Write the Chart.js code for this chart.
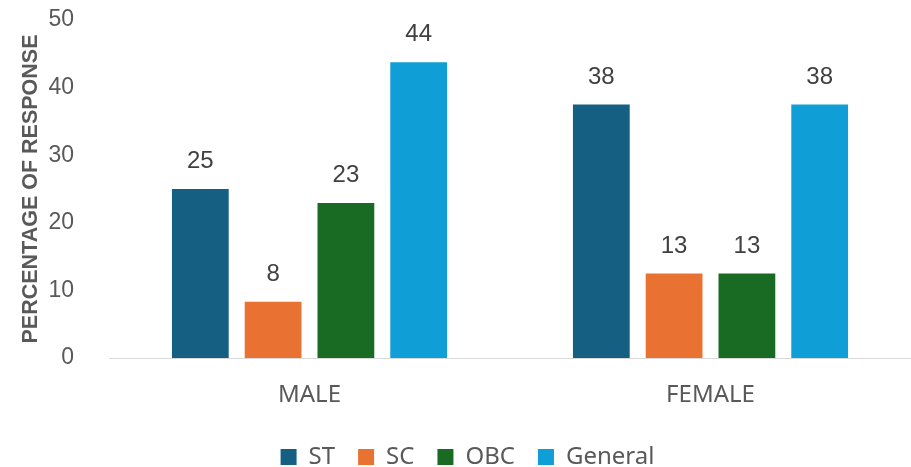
<!DOCTYPE html>
<html>
<head>
<meta charset="utf-8">
<script src="https://cdn.jsdelivr.net/npm/chart.js@4/dist/chart.umd.min.js"></script>
<style>
  html, body { margin: 0; padding: 0; background: #ffffff; }
  #wrap { width: 911px; height: 467px; position: relative; }
</style>
</head>
<body>
<div id="wrap"><canvas id="c" width="911" height="467"></canvas></div>
<script>
// ---- data ----
const categories = ['MALE', 'FEMALE'];
const seriesNames = ['ST', 'SC', 'OBC', 'General'];
const stValues = [25, 37.5];
const scValues = [8.33, 12.5];
const obcValues = [22.92, 12.5];
const generalValues = [43.75, 37.5];
const yTicks = [0, 10, 20, 30, 40, 50];
const yTitle = 'PERCENTAGE OF RESPONSE';

const colors = ['#156082', '#E97132', '#196B24', '#0F9ED5'];
const seriesValues = [stValues, scValues, obcValues, generalValues];

const valueLabels = {
  id: 'valueLabels',
  afterDatasetsDraw(chart) {
    const ctx = chart.ctx;
    ctx.save();
    ctx.font = '24px "Liberation Sans", Arial, sans-serif';
    ctx.fillStyle = '#404040';
    ctx.textAlign = 'center';
    ctx.textBaseline = 'alphabetic';
    chart.data.datasets.forEach((ds, i) => {
      const meta = chart.getDatasetMeta(i);
      meta.data.forEach((bar, j) => {
        ctx.fillText(String(Math.round(ds.data[j])), bar.x, bar.y - 21);
      });
    });
    ctx.restore();
  }
};

new Chart(document.getElementById('c'), {
  type: 'bar',
  data: {
    labels: categories,
    datasets: seriesNames.map((n, i) => ({
      label: n,
      data: seriesValues[i],
      backgroundColor: colors[i],
      borderWidth: 0,
      categoryPercentage: 0.726,
      barPercentage: 0.78
    }))
  },
  options: {
    responsive: false,
    animation: false,
    devicePixelRatio: 1,
    layout: { padding: { left: 24, right: 0, top: 20, bottom: -12 } },
    plugins: {
      tooltip: { enabled: false },
      legend: {
        position: 'bottom',
        labels: {
          boxWidth: 16,
          boxHeight: 16,
          padding: 23,
          color: '#595959',
          font: { family: '"Noto Sans", sans-serif', size: 24 }
        }
      }
    },
    scales: {
      x: {
        grid: { display: false },
        border: { display: true, color: '#d9d9d9', width: 1 },
        ticks: {
          color: '#595959',
          padding: 15,
          font: { family: '"Noto Sans", sans-serif', size: 24 }
        },
        afterFit(scale) { scale.height = 64; }
      },
      y: {
        min: 0,
        max: 50,
        afterBuildTicks(scale) { scale.ticks = yTicks.map(v => ({ value: v })); },
        grid: { display: false },
        border: { display: false },
        ticks: {
          color: '#595959',
          padding: 27,
          font: { family: '"Liberation Sans", Arial, sans-serif', size: 23 }
        },
        title: {
          display: true,
          text: yTitle,
          color: '#595959',
          padding: { top: -6, bottom: 0 },
          font: { family: '"Liberation Sans", Arial, sans-serif', size: 21.5, weight: 'bold', lineHeight: 1.2 }
        },
        afterFit(scale) {
          scale.width = 85;
          scale.paddingTop = 0;
          scale.paddingBottom = 0;
        }
      }
    }
  },
  plugins: [valueLabels]
});
</script>
</body>
</html>
